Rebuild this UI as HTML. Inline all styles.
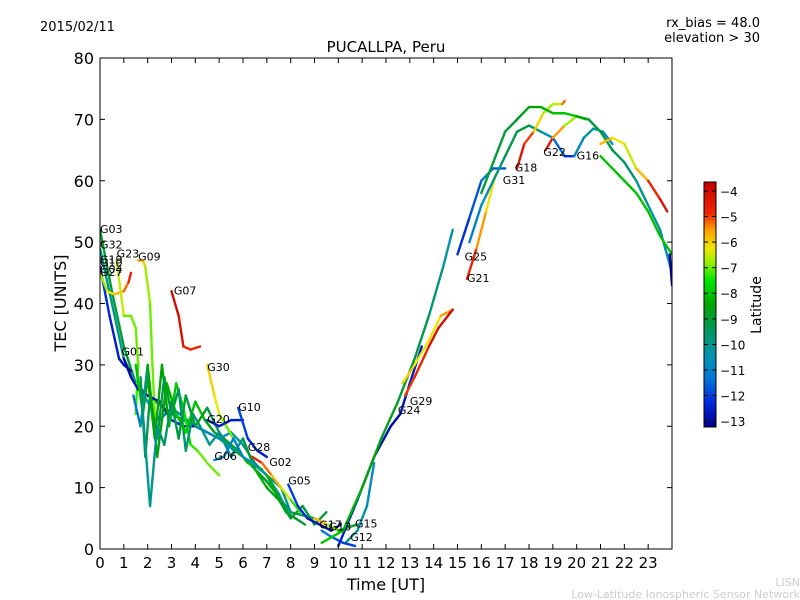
<!DOCTYPE html>
<html><head><meta charset="utf-8"><style>
body{margin:0;background:#fff;}
svg{display:block;font-family:"DejaVu Sans","Liberation Sans",sans-serif;}
</style></head><body>
<svg id="chart" width="800" height="600" viewBox="0 0 800 600">
<rect width="800" height="600" fill="#fff"/>
<text x="40" y="31" font-size="13">2015/02/11</text>
<text x="760" y="27" font-size="13" text-anchor="end">rx_bias = 48.0</text>
<text x="760" y="42" font-size="13" text-anchor="end">elevation &gt; 30</text>
<text x="386" y="52" font-size="15" text-anchor="middle">PUCALLPA, Peru</text>
<text x="386" y="590" font-size="16" text-anchor="middle">Time [UT]</text>
<text x="66" y="303" font-size="16" text-anchor="middle" transform="rotate(-90 66 303)">TEC [UNITS]</text>
<text x="761" y="305" font-size="14" text-anchor="middle" transform="rotate(-90 761 305)">Latitude</text>
<text x="800" y="586" font-size="11" fill="#ccc" text-anchor="end">LISN</text>
<text x="800" y="598" font-size="11" fill="#ccc" text-anchor="end">Low-Latitude Ionospheric Sensor Network</text>
<g id="plot"></g>
<g id="axes"></g>
<g id="cbar"></g>
</svg>
<script>
const xTicks=[0,1,2,3,4,5,6,7,8,9,10,11,12,13,14,15,16,17,18,19,20,21,22,23];
const yTicks=[0,10,20,30,40,50,60,70,80];
const cbTicks=[-4,-5,-6,-7,-8,-9,-10,-11,-12,-13];
const trackNames=["G03","G32","G19","G27","G23","G09","G07","G01","Gosc1","Gosc2","Gosc3","Gosc4","G30","G20","G10","G06","G28","G02","G05","G13","G15","G12","G24","G29","Grise3","Grise4","G25","G21","G31","G18","G22","G16","Gtop","Glate1","Glate2","Glate3"];
const trackTime=[
[0,0.5,1,1.5,2,3,4,5,6,7,8,9,10],
[0,0.5,1,1.5,2,2.5,3,4,5,5.5,6,6.5,7,7.5,8],
[0,0.4,0.8,1,1.3],
[0,0.3,0.6,1,1.2,1.3],
[0.7,1,1.3,1.5,1.6,1.5],
[1.6,1.8,1.9,2.1,2.2,2.3,2.4],
[3,3.3,3.5,3.8,4.2],
[1,1.3,1.6,2,2.5,3,3.5,4],
[1.5,1.8,2,2.3,2.6,2.9,3.2,3.5,3.8,4.1,4.5,5],
[1.7,1.9,2.1,2.4,2.7,3,3.3,3.6,3.9,4.2,4.6,5,5.6],
[1.4,1.7,2,2.4,2.8,3.2,3.6,4,4.4,4.8,5.2,5.8,6.2,6.8],
[1.8,2.1,2.4,2.7,3,3.3,3.6,4,4.5,5,5.5,6,6.5,7,7.5,8,8.5,9,9.5],
[4.5,4.8,5,5.3,5.6],
[4.5,5,5.5,6],
[5.8,6.2,6.6,7],
[4.8,5.2,5.6,6,6.4,7,7.6,8],
[6.4,6.8,7.2,7.6,8,8.4],
[7,7.4,7.8,8.2,8.6],
[7.9,8.3,8.7,9.2,9.7,10.1],
[9,9.5,10,10.4,10.8],
[10.3,10.8,11.2,11.5],
[9.3,9.7,10.2,10.7],
[10,10.8,11.5,12.2,12.6,13,13.5],
[9.3,10.2,11,11.8,12.5,13.2,13.8,14.4,14.8],
[12.7,13.2,13.8,14.3,14.8],
[12.8,13.2,13.8,14.2,14.8],
[15,15.5,16,16.5,17],
[15.4,15.8,16.2,16.6],
[15.5,16,16.5,17,17.5,18,18.5,19,19.5,19.9],
[17.5,17.8,18.2,18.6,19,19.4,19.5],
[18.7,19,19.5,20,20.4],
[19.9,20.3,20.7,21.1,21.5],
[16,16.5,17,17.5,18,18.5,19,19.5,20,20.5,21,21.5,22,22.5,23,23.5,24],
[21,21.5,22,22.5,23,23.5,23.8],
[21,21.5,22,22.5,23,23.5,24],
[23.9,24]];
const trackTec=[
[52,42,33,27,25,22,20,18,15,11,6,5,3],
[49,40,31,27,24,21,23,20,18,19,17,14,12,9,5],
[46,38,31,30,29],
[45,42,41.5,42,43.5,45],
[47,38,38,36,30,22],
[47,47,46,40,30,22,18],
[42,38,33,32.5,33],
[31,28,26,25,24,21,20,20],
[30,22,28,18,30,20,27,23,17,16,14,12],
[28,15,25,18,28,22,26,16,22,20,17,19,16],
[25,20,30,15,27,22,19,24,21,19,18,16,14,13],
[22,7,20,17,24,18,25,20,23,19,15,18,13,10,8,5,7,4,6],
[30,25,22,20,18],
[21,20,21,21],
[23,18,16,15],
[14.5,15,18,15,14,12,10,6],
[15,14,12,10,8,6],
[12,9,6,5,4],
[10.5,7,5,4,3,4],
[5,4,3,3.5,4],
[1,3,7,14],
[3,2,1,0.5],
[0.5,8,15,20,22,27,33],
[1,3,10,18,24,31,38,46,52],
[27,30,34,38,39],
[25,28,33,36,39],
[48,54,60,62,62],
[44,49,55,61],
[50,56,60,64,68,69,68,67,64,64],
[62,66,68,71,72.5,72.5,73],
[65,67,69,70.5,70],
[64,67,68.5,68,66],
[58,63,68,70,72,72,71,71,70.5,70,68,65,63,60,56,52,45],
[66,67,66,62,60,57,55],
[64,62,60,58,55,51,48],
[48,43]];
const trackLat=[
[-9,-9,-9,-9,-9.5,-9,-9,-9,-9,-9,-9,-9,-9],
[-10,-10,-10,-10.5,-10.5,-11,-11,-11,-11,-10.5,-10,-10,-10,-10,-10],
[-12,-12.5,-12.5,-13,-13],
[-7,-6.5,-6,-5.5,-5,-4.5],
[-6,-7,-7,-7,-7,-7.5],
[-5.5,-5.5,-6.5,-7,-7,-7,-7],
[-4,-4,-4.5,-5,-4.5],
[-13,-13,-12.5,-12.5,-13,-12.5,-12.5,-13],
[-8,-8,-9,-8,-9,-8,-8,-7.5,-7.5,-7,-7,-7],
[-9,-9.5,-9,-9.5,-9,-9,-9.5,-9.5,-10,-10,-10,-10,-10.5],
[-11,-11.5,-8.5,-8.5,-8.5,-8,-8,-8,-8,-9,-9,-8.5,-8,-8],
[-10,-10,-10,-9.5,-9.5,-9,-9,-9,-8.5,-10,-10.5,-9.5,-8.5,-8,-9,-9.5,-9,-9,-9],
[-6,-6,-6.5,-7,-7],
[-12.5,-12.5,-12.5,-12.5],
[-12,-12,-12.5,-12.5],
[-11,-11,-11,-11,-10.5,-10,-10,-10],
[-4.5,-5,-5.5,-6,-7,-7.5],
[-8,-8.5,-8.5,-9,-9],
[-12,-12,-12.5,-13,-13,-13],
[-6,-5.5,-8,-8.5,-9],
[-10,-10,-10.5,-11],
[-11,-11.5,-12,-12],
[-12.5,-12.5,-12.5,-13,-13,-12.5,-12.5],
[-8,-8,-8.5,-8.5,-9,-9,-9.5,-10,-10.5],
[-6,-6,-6.5,-6,-5],
[-5,-5,-4.5,-4,-4],
[-12.5,-12,-11.5,-11,-12.5],
[-4.5,-5,-6,-6.5],
[-11,-11,-10,-9.5,-9,-9,-10,-11,-12,-12.5],
[-4,-4.5,-5.5,-6.5,-7,-6,-4.5],
[-4,-5,-6,-7.5,-8],
[-11,-10.5,-10,-10.5,-11],
[-9,-9,-9,-9,-8.5,-8.5,-8,-8,-8,-9,-9,-9,-9.5,-10,-10,-10.5,-11],
[-5.5,-6,-6.5,-6.5,-5,-4.5,-4],
[-8,-8,-8,-8,-8,-8,-8],
[-13,-13]];
const labelNames=["G03","G32","G23","G09","G19","G10","G04","G27","G07","G01","G30","G10","G20","G06","G28","G02","G05","G17","G13","G15","G12","G24","G29","G25","G21","G18","G31","G22","G16"];
const labelTime=[0,0,0.7,1.6,0,0,0,0,3.1,0.9,4.5,5.8,4.5,4.8,6.2,7.1,7.9,9.2,9.6,10.7,10.5,12.5,13,15.3,15.4,17.4,16.9,18.6,20];
const labelTec=[51.5,49,47.5,47,46.5,46,45,44.5,41.5,31.5,29,22.5,20.5,14.5,16,13.5,10.5,3.3,3,3.5,1.3,22,23.5,47,43.5,61.5,59.5,64,63.5];

const NS='http://www.w3.org/2000/svg';
const L=100,R=672,T=58,B=549;
function xs(h){return L+h*(R-L)/24;}
function ys(v){return B-v*(B-T)/80;}
const cbTop=182,cbBot=427,latMax=-3.65,latMin=-13.23;
function cy(lat){return cbTop+(latMax-lat)*(cbBot-cbTop)/(latMax-latMin);}
const cmap=[[0,[0,0,140]],[0.1,[0,40,220]],[0.2,[0,120,215]],[0.3,[0,150,170]],[0.4,[0,150,90]],[0.5,[0,165,0]],[0.6,[0,230,0]],[0.67,[150,240,0]],[0.73,[240,230,0]],[0.8,[255,165,0]],[0.87,[240,40,0]],[1,[195,0,0]]];
function jet(t){t=Math.max(0,Math.min(1,t));
 for(let i=0;i<cmap.length-1;i++){const a=cmap[i],b=cmap[i+1];
  if(t<=b[0]){const f=(t-a[0])/(b[0]-a[0]);const c=a[1].map((v,k)=>Math.round(v+(b[1][k]-v)*f));return 'rgb('+c.join(',')+')';}}
 return 'rgb(195,0,0)';}
function latColor(l){return jet((l-latMin)/(latMax-latMin));}
function mk(tag,attrs,parent){const e=document.createElementNS(NS,tag);for(const k in attrs)e.setAttribute(k,attrs[k]);parent.appendChild(e);return e;}

const plot=document.getElementById('plot');
const clip=mk('clipPath',{id:'pc'},plot);
mk('rect',{x:L,y:T,width:R-L,height:B-T},clip);
const pg=mk('g',{'clip-path':'url(#pc)'},plot);
for(let i=0;i<trackTime.length;i++){
 const g=mk('g',{},pg);
 
 
 const t=trackTime[i],v=trackTec[i],la=trackLat[i];
 for(let j=0;j<t.length-1;j++){
  const s=mk('line',{x1:xs(t[j]),y1:ys(v[j]),x2:xs(t[j+1]),y2:ys(v[j+1]),stroke:latColor((la[j]+la[j+1])/2),'stroke-width':2.4,'stroke-linecap':'round'},g);
  
  
 }
}
for(let i=0;i<labelNames.length;i++){
 const tx=mk('text',{x:xs(labelTime[i]),y:ys(labelTec[i]),'font-size':11},pg);
 tx.textContent=labelNames[i];
 
 
}
const ax=document.getElementById('axes');
const frame=mk('rect',{x:L,y:T,width:R-L,height:B-T,fill:'none',stroke:'#000','stroke-width':1},ax);


xTicks.forEach(h=>{
 const x=xs(h);
 mk('line',{x1:x,y1:B,x2:x,y2:B-5,stroke:'#000'},ax);
 mk('line',{x1:x,y1:T,x2:x,y2:T+5,stroke:'#000'},ax);
 const tx=mk('text',{x:x,y:B+19,'font-size':15,'text-anchor':'middle'},ax);
 tx.textContent=h;
 
 
});
yTicks.forEach(v=>{
 const y=ys(v);
 mk('line',{x1:L,y1:y,x2:L+5,y2:y,stroke:'#000'},ax);
 mk('line',{x1:R,y1:y,x2:R-5,y2:y,stroke:'#000'},ax);
 const tx=mk('text',{x:L-6,y:y+6,'font-size':16,'text-anchor':'end'},ax);
 tx.textContent=v;
 
 
});
const cb=document.getElementById('cbar');
const defs=mk('defs',{},cb);
const grad=mk('linearGradient',{id:'jg',x1:0,y1:1,x2:0,y2:0},defs);
cmap.forEach(s=>mk('stop',{offset:s[0],'stop-color':'rgb('+s[1].join(',')+')'},grad));
const cr=mk('rect',{x:704,y:cbTop,width:12,height:cbBot-cbTop,fill:'url(#jg)',stroke:'#000'},cb);


cbTicks.forEach(l=>{
 const y=cy(l);
 mk('line',{x1:712,y1:y,x2:716,y2:y,stroke:'#000'},cb);
 mk('line',{x1:704,y1:y,x2:708,y2:y,stroke:'#000'},cb);
 const tx=mk('text',{x:720,y:y+5,'font-size':12},cb);
 tx.textContent='\u2212'+Math.abs(l);
 
 
});
</script>
</body></html>
